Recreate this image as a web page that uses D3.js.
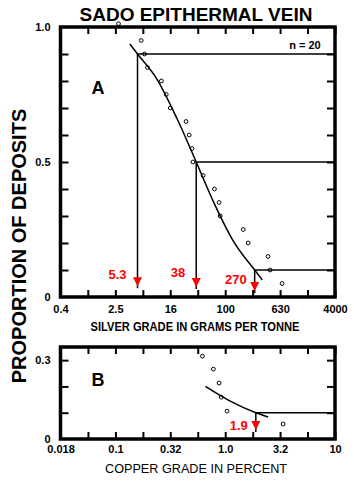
<!DOCTYPE html>
<html>
<head>
<meta charset="utf-8">
<script src="https://cdn.jsdelivr.net/npm/d3@7"></script>
<style>
body { margin: 0; background: #fff; }
svg { display: block; font-family: "Liberation Sans", Arial, sans-serif; font-weight: bold; }
.tl { font-family: "Liberation Sans Narrow", "Arial Narrow", "Liberation Sans", sans-serif; font-size: 11px; }
</style>
</head>
<body>
<script>
// silver (panel A) - observed deposits
const agGrade = [2.8, 6.0, 6.7, 7.4, 11.8, 13.9, 15.9, 27, 30, 33, 34, 48, 70, 82, 85, 184, 217, 424, 454, 678];
const agProp  = [1.012, 0.95, 0.9, 0.85, 0.8, 0.75, 0.7, 0.65, 0.6, 0.55, 0.5, 0.45, 0.4, 0.35, 0.3, 0.25, 0.2, 0.15, 0.1, 0.05];
// fitted curve
const agFitGrade = [4.1, 5.3, 10, 20, 38, 70, 130, 270, 350];
const agFitProp  = [0.937, 0.9, 0.81, 0.66, 0.5, 0.345, 0.21, 0.1, 0.063];
// percentile marks
const agMarkGrade = [5.3, 38, 270];
const agMarkProp  = [0.9, 0.5, 0.1];
const agMarkLabel = ['5.3', '38', '270'];
// axis ticks
const agTicks = [0.4, 1.0, 2.52, 6.34, 15.9, 40, 100.5, 252, 634, 1592, 4000];
const agLabelVals = [0.4, 2.52, 15.9, 100.5, 634, 4000];
const agLabels = ['0.4', '2.5', '16', '100', '630', '4000'];

// copper (panel B)
const cuGrade = [0.62, 0.78, 0.88, 0.92, 1.04, 3.37];
const cuProp  = [0.315, 0.266, 0.213, 0.159, 0.106, 0.057];
const cuFitGrade = [0.66, 1.1, 1.9, 2.46];
const cuFitProp  = [0.2, 0.145, 0.1, 0.084];
const cuMarkGrade = [1.9];
const cuMarkProp  = [0.1];
const cuMarkLabel = ['1.9'];
const cuTicks = [0.0316, 0.0562, 0.1, 0.178, 0.316, 0.562, 1, 1.78, 3.16, 5.62, 10];
const cuLabelVals = [0.0316, 0.1, 0.316, 1, 3.16, 10];
const cuLabels = ['0.018', '0.1', '0.32', '1.0', '3.2', '10'];

const propTicks = [0.1, 0.2, 0.3, 0.4, 0.5, 0.6, 0.7, 0.8, 0.9];

const svg = d3.select('body')
  .append('svg')
    .attr('width', 354)
    .attr('height', 489);

function panel(o) {
  const x = d3.scaleLog().domain(o.xd).range([60.5, 335]);
  const y = d3.scaleLinear().domain(o.yd).range(o.yr);
  const g = svg.append('g');
  const yt = propTicks.filter(v => v < o.yd[1]);

  // inward ticks on all sides
  g.append('g').attr('transform', 'translate(0,' + o.yr[0] + ')')
    .call(d3.axisTop(x).tickValues(o.ticks).tickSize(7).tickFormat(''));
  g.append('g').attr('transform', 'translate(0,' + o.yr[1] + ')')
    .call(d3.axisBottom(x).tickValues(o.ticks).tickSize(7).tickFormat(''));
  g.append('g').attr('transform', 'translate(60.5,0)')
    .call(d3.axisRight(y).tickValues(yt).tickSize(8).tickFormat(''));
  g.append('g').attr('transform', 'translate(335,0)')
    .call(d3.axisLeft(y).tickValues(yt).tickSize(8).tickFormat(''));
  g.selectAll('.domain').remove();
  g.selectAll('.tick line').attr('stroke', '#000').attr('stroke-width', 2);

  // tick labels
  const xl = g.append('g').attr('class', 'tl').attr('transform', 'translate(0,' + o.yr[0] + ')')
    .call(d3.axisBottom(x).tickValues(o.labelVals).tickSize(0).tickPadding(o.xpad)
      .tickFormat((d, i) => o.labels[i]));
  const yl = g.append('g').attr('class', 'tl').attr('transform', 'translate(60.5,0)')
    .call(d3.axisLeft(y).tickValues(o.yLabelVals).tickSize(0).tickPadding(10)
      .tickFormat((d, i) => o.yLabels[i]));
  xl.select('.domain').remove();
  yl.select('.domain').remove();
  g.selectAll('.tl text').attr('font-size', 11).attr('font-weight', 'bold').attr('fill', '#000');

  // frame
  g.append('rect')
    .attr('x', 60.5).attr('y', o.yr[1])
    .attr('width', 335 - 60.5).attr('height', o.yr[0] - o.yr[1])
    .attr('fill', 'none').attr('stroke', '#000').attr('stroke-width', 3.5);

  // percentile guide lines + red arrows
  o.mark.forEach((m, i) => {
    const mx = x(m), my = y(o.markProp[i]);
    const tip = y(o.tipProp[i]);
    g.append('line')
      .attr('x1', mx).attr('y1', my).attr('x2', 335).attr('y2', my)
      .attr('stroke', '#000').attr('stroke-width', 1.5);
    g.append('line')
      .attr('x1', mx).attr('y1', my).attr('x2', mx).attr('y2', tip + 2)
      .attr('stroke', '#000').attr('stroke-width', 1.5);
    g.append('path')
      .attr('d', 'M' + (mx - 4.5) + ',' + (tip - 9) + 'L' + (mx + 4.5) + ',' + (tip - 9) + 'L' + mx + ',' + tip + 'Z')
      .attr('fill', 'red');
    g.append('text')
      .attr('x', mx - o.labelGap[i]).attr('y', tip - o.labelUp[i])
      .attr('text-anchor', 'end')
      .attr('font-size', 13)
      .attr('fill', 'red')
      .text(o.markLabel[i]);
  });

  // fitted curve
  const fit = o.fitX.map((v, i) => [v, o.fitY[i]]);
  g.append('path')
    .attr('d', d3.line().x(d => x(d[0])).y(d => y(d[1])).curve(d3.curveMonotoneX)(fit))
    .attr('fill', 'none').attr('stroke', '#000').attr('stroke-width', 1.5);

  // observed points
  g.selectAll('circle.pt')
    .data(o.ptX)
    .enter().append('circle')
      .attr('class', 'pt')
      .attr('cx', d => x(d))
      .attr('cy', (d, i) => y(o.ptY[i]))
      .attr('r', 1.9)
      .attr('fill', 'none')
      .attr('stroke', '#000')
      .attr('stroke-width', 1);

  // panel letter
  g.append('text')
    .attr('x', 98).attr('y', o.letterY)
    .attr('text-anchor', 'middle')
    .attr('font-size', 18)
    .text(o.letter);
  return g;
}

panel({
  xd: [0.4, 4000], yd: [0, 1], yr: [297, 27],
  ticks: agTicks, labelVals: agLabelVals, labels: agLabels, xpad: 8,
  yLabelVals: [0, 0.5, 1], yLabels: ['0', '0.5', '1.0'],
  mark: agMarkGrade, markProp: agMarkProp, markLabel: agMarkLabel,
  tipProp: [0.04, 0.037, 0.022], labelGap: [11, 11, 8], labelUp: [7, 10, 7],
  fitX: agFitGrade, fitY: agFitProp,
  ptX: agGrade, ptY: agProp,
  letter: 'A', letterY: 94
});

panel({
  xd: [0.0316, 10], yd: [0, 0.35], yr: [439, 347],
  ticks: cuTicks, labelVals: cuLabelVals, labels: cuLabels, xpad: 6,
  yLabelVals: [0, 0.3], yLabels: ['0', '0.3'],
  mark: cuMarkGrade, markProp: cuMarkProp, markLabel: cuMarkLabel,
  tipProp: [0.034], labelGap: [8], labelUp: [0],
  fitX: cuFitGrade, fitY: cuFitProp,
  ptX: cuGrade, ptY: cuProp,
  letter: 'B', letterY: 386
});

// titles
svg.append('text')
  .attr('x', 196).attr('y', 21)
  .attr('text-anchor', 'middle')
  .attr('font-size', 19)
  .text('SADO EPITHERMAL VEIN');

svg.append('text')
  .attr('x', 305).attr('y', 49)
  .attr('text-anchor', 'middle')
  .attr('font-size', 11)
  .text('n = 20');

svg.append('text')
  .attr('x', 195).attr('y', 331)
  .attr('text-anchor', 'middle')
  .attr('font-size', 12.5)
  .attr('textLength', 209)
  .attr('lengthAdjust', 'spacingAndGlyphs')
  .text('SILVER GRADE IN GRAMS PER TONNE');

svg.append('text')
  .attr('x', 196).attr('y', 473)
  .attr('text-anchor', 'middle')
  .attr('font-size', 13.5)
  .attr('font-weight', 'normal')
  .attr('textLength', 182)
  .attr('lengthAdjust', 'spacingAndGlyphs')
  .text('COPPER GRADE IN PERCENT');

svg.append('text')
  .attr('transform', 'translate(26,246) rotate(-90)')
  .attr('text-anchor', 'middle')
  .attr('font-size', 20)
  .text('PROPORTION OF DEPOSITS');
</script>
</body>
</html>
